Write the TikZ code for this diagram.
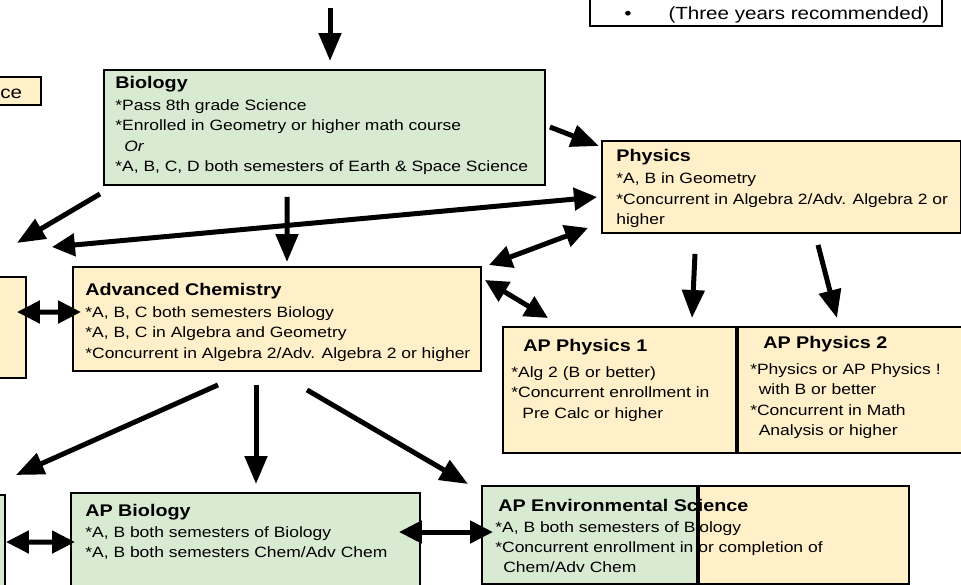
\documentclass[tikz,border=0pt]{standalone}
\usepackage{fontspec}
\setmainfont{Liberation Sans}[FakeStretch=1.17]
\usepackage{tikz}
\usetikzlibrary{
  arrows.meta,
  positioning
}
\definecolor{cpBio}{HTML}{D9EAD3}
\definecolor{cpChem}{HTML}{FFF0C9}
\newcommand{\crstitle}[1]{{\fontsize{9.6}{11.6}\selectfont\bfseries #1}}
\tikzset{
  course/.style={draw, line width=1.1pt, anchor=north west, inner sep=0pt},
  biobox/.style={course, fill=cpBio},
  chembox/.style={course, fill=cpChem},
  notebox/.style={course, fill=white},
  ctext/.style={anchor=north west, align=left, inner sep=0pt, font=\fontsize{8.5}{11.6}\selectfont},
  notetext/.style={anchor=base west, inner sep=0pt, font=\fontsize{10}{12}\selectfont},
  req/.style={-{Triangle[length=5.6mm, width=4.4mm]}, line width=1mm},
  mutual/.style={{Triangle[length=4.6mm, width=4.4mm]}-{Triangle[length=4.6mm, width=4.4mm]}, line width=1mm}
}

\begin{document}
\begin{tikzpicture}
  \useasboundingbox (0,0) rectangle (19.22,-11.68);
  % course boxes
  \node[notebox, minimum width=7.04cm, minimum height=0.8cm] (note) at (11.78,0.3) {};
  \node[chembox, minimum width=1cm, minimum height=0.56cm] (cutSci) at (-0.2,-1.52) {};
  \node[biobox, minimum width=8.82cm, minimum height=2.30cm] (bio) at (2.06,-1.38) {};
  \node[chembox, minimum width=7.18cm, minimum height=1.84cm] (phys) at (12.02,-2.80) {};
  \node[chembox, minimum width=1cm, minimum height=2.02cm] (cutChem) at (-0.5,-5.52) {};
  \node[chembox, minimum width=8.16cm, minimum height=2.08cm] (chem) at (1.44,-5.32) {};
  \node[chembox, minimum width=4.66cm, minimum height=2.52cm] (apone) at (10.04,-6.52) {};
  \node[chembox, minimum width=4.60cm, minimum height=2.52cm, right=0pt of apone] (aptwo) {};
  \node[biobox, minimum width=1cm, minimum height=2cm] (cutBio) at (-0.92,-9.88) {};
  \node[biobox, minimum width=6.98cm, minimum height=2cm] (apbio) at (1.40,-9.84) {};
  \node[biobox, minimum width=4.30cm, minimum height=1.96cm] (envbio) at (9.62,-9.70) {};
  \node[chembox, minimum width=4.20cm, minimum height=1.96cm, right=0pt of envbio] (envchem) {};

  % texts
  \node[notetext] (noteText) at ([shift={(0.70,-0.68)}]note.north west) {\textbullet\hspace{0.74cm}(Three years recommended)};
  \node[notetext] (sciText) at ([shift={(0.2,-0.44)}]cutSci.north west) {ce};
  \node[ctext] (bioText) at ([shift={(0.24,-0.135)}]bio.north west) {\crstitle{Biology}\\[1pt]
    *Pass 8th grade Science\\
    *Enrolled in Geometry or higher math course\\
    \hspace*{0.18cm}\textit{Or}\\
    *A, B, C, D both semesters of Earth \& Space Science};
  \node[ctext] (physText) at ([shift={(0.30,-0.185)}]phys.north west) {\crstitle{Physics}\\[1pt]
    *A, B in Geometry\\
    *Concurrent in Algebra 2/Adv. Algebra 2 or\\
    higher};
  \node[ctext] (chemText) at ([shift={(0.26,-0.335)}]chem.north west) {\crstitle{Advanced Chemistry}\\[1pt]
    *A, B, C both semesters Biology\\
    *A, B, C in Algebra and Geometry\\
    *Concurrent in Algebra 2/Adv. Algebra 2 or higher};
  \node[ctext] (aponeText) at ([shift={(0.18,-0.265)}]apone.north west) {\hspace*{0.24cm}\crstitle{AP Physics 1}\\[3pt]
    *Alg 2 (B or better)\\
    *Concurrent enrollment in\\
    \hspace*{0.22cm}Pre Calc or higher};
  \node[ctext] (aptwoText) at ([shift={(0.26,-0.205)}]aptwo.north west) {\hspace*{0.26cm}\crstitle{AP Physics 2}\\[3pt]
    *Physics or AP Physics !\\
    \hspace*{0.17cm}with B or better\\
    *Concurrent in Math\\
    \hspace*{0.17cm}Analysis or higher};
  \node[ctext] (apbioText) at ([shift={(0.30,-0.245)}]apbio.north west) {\crstitle{AP Biology}\\
    *A, B both semesters of Biology\\
    *A, B both semesters Chem/Adv Chem};
  \node[ctext] (envText) at ([shift={(0.28,-0.285)}]envbio.north west) {\hspace*{0.06cm}\crstitle{AP Environmental Science}\\
    *A, B both semesters of Biology\\
    *Concurrent enrollment in or completion of\\
    \hspace*{0.16cm}Chem/Adv Chem};

  % arrows
  \coordinate (feed) at (6.60,-0.16);
  \draw[req, shorten >=0.16cm] (feed) -- (feed |- bio.north);
  \draw[req] ([shift={(0.08,-1.16)}]bio.north east) -- ([shift={(-0.04,-0.12)}]phys.north west);
  \draw[req] ([shift={(-0.06,-0.16)}]bio.south west) -- ([shift={(-0.20,0.66)}]cutChem.north east);
  \draw[req] ([shift={(3.68,-0.22)}]bio.south west) -- ([shift={(4.30,0.08)}]chem.north west);
  \draw[mutual] ([shift={(0.50,0.58)}]cutChem.north east) -- ([shift={(-0.08,-1.14)}]phys.north west);
  \draw[mutual] ([shift={(0.14,0.02)}]chem.north east) -- ([shift={(-0.26,0.12)}]phys.south west);
  \draw[mutual] ([shift={(0.06,-0.28)}]chem.north east) -- ([shift={(0.92,0.16)}]apone.north west);
  \draw[req] ([shift={(1.88,-0.40)}]phys.south west) -- ([shift={(3.80,0.16)}]apone.north west);
  \draw[req] ([shift={(4.34,-0.22)}]phys.south west) -- ([shift={(2.00,0.16)}]aptwo.north west);
  \draw[req] ([shift={(2.92,-0.26)}]chem.south west) -- ([shift={(0.20,0.38)}]cutBio.north east);
  \draw[req] ([shift={(3.68,-0.26)}]chem.south west) -- ([shift={(3.72,0.16)}]apbio.north west);
  \draw[req] ([shift={(4.70,-0.36)}]chem.south west) -- ([shift={(-0.26,0.02)}]envbio.north west);
  \draw[mutual] ([shift={(-0.20,-0.72)}]cutChem.north east) -- ([shift={(0.18,-0.92)}]chem.north west);
  \draw[mutual] ([shift={(0,-0.96)}]cutBio.north east) -- ([shift={(0.10,-1.00)}]apbio.north west);
  \draw[mutual] ([shift={(-0.44,-0.80)}]apbio.north east) -- ([shift={(0.24,-0.94)}]envbio.north west);
\end{tikzpicture}
\end{document}
